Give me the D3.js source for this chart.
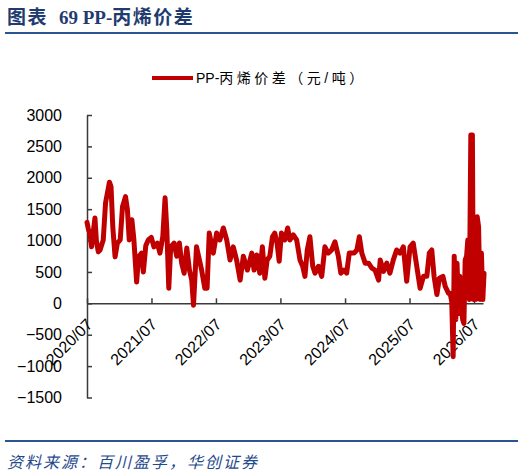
<!DOCTYPE html>
<html>
<head>
<meta charset="utf-8">
<script src="https://cdn.jsdelivr.net/npm/d3@7"></script>
<style>
  body { margin: 0; background: #ffffff; }
  svg { display: block; }
</style>
</head>
<body>
<script>
// DATA
const DATES = [
  '2020-07-01', '2020-07-09', '2020-07-17', '2020-07-27', '2020-08-04', '2020-08-15', '2020-08-23', '2020-09-03',
  '2020-09-13', '2020-10-01', '2020-10-14', '2020-11-05', '2020-11-14', '2020-11-24', '2020-12-07', '2020-12-20',
  '2021-01-05', '2021-01-18', '2021-02-04', '2021-02-15', '2021-02-25', '2021-03-12', '2021-03-23', '2021-04-08',
  '2021-04-19', '2021-05-06', '2021-05-16', '2021-05-30', '2021-06-13', '2021-06-30', '2021-07-15', '2021-08-03',
  '2021-08-18', '2021-09-03', '2021-09-16', '2021-09-26', '2021-10-07', '2021-10-18', '2021-11-06', '2021-11-21',
  '2021-12-06', '2021-12-19', '2022-01-02', '2022-01-17', '2022-02-01', '2022-02-14', '2022-02-24', '2022-03-13',
  '2022-04-11', '2022-04-29', '2022-05-12', '2022-05-24', '2022-06-16', '2022-07-05', '2022-07-23', '2022-08-12',
  '2022-08-31', '2022-09-19', '2022-10-07', '2022-10-26', '2022-11-15', '2022-12-03', '2022-12-26', '2023-01-20',
  '2023-02-02', '2023-02-17', '2023-03-06', '2023-03-21', '2023-04-04', '2023-04-17', '2023-05-02', '2023-05-17',
  '2023-05-30', '2023-06-12', '2023-06-24', '2023-07-07', '2023-07-26', '2023-08-11', '2023-08-24', '2023-09-12',
  '2023-10-01', '2023-10-20', '2023-11-04', '2023-11-17', '2023-11-30', '2023-12-15', '2023-12-31', '2024-01-13',
  '2024-02-01', '2024-02-20', '2024-03-09', '2024-03-28', '2024-04-16', '2024-05-05', '2024-05-24', '2024-06-07',
  '2024-06-25', '2024-07-10', '2024-07-25', '2024-08-21', '2024-09-06', '2024-09-20', '2024-10-04', '2024-10-23',
  '2024-11-11', '2024-11-30', '2024-12-18', '2025-01-07', '2025-01-16', '2025-02-04', '2025-02-22', '2025-03-12',
  '2025-03-31', '2025-04-19', '2025-05-08', '2025-05-27', '2025-06-15', '2025-07-04', '2025-07-22', '2025-08-11',
  '2025-08-30', '2025-09-18', '2025-10-07', '2025-10-21', '2025-11-04', '2025-11-17', '2025-12-03', '2025-12-17',
  '2026-01-06', '2026-01-19', '2026-02-07', '2026-02-16', '2026-02-25', '2026-03-05', '2026-03-11', '2026-03-20',
  '2026-03-27', '2026-04-05', '2026-04-12', '2026-04-20', '2026-04-28', '2026-05-05', '2026-05-12', '2026-05-20',
  '2026-05-27', '2026-06-05', '2026-06-13', '2026-06-22', '2026-06-27', '2026-07-05', '2026-07-12', '2026-07-19',
  '2026-07-27', '2026-08-04', '2026-08-12', '2026-08-20', '2026-08-27'
];
const VALUES = [
  1290, 1180, 1120, 900, 1100, 1360, 1000, 820,
  850, 1010, 1600, 1930, 1860, 1220, 740, 960,
  1010, 1540, 1700, 1490, 1010, 1330, 1030, 340,
  740, 800, 500, 920, 1010, 1050, 900, 960,
  800, 1060, 1680, 1170, 240, 900, 960, 750,
  960, 640, 480, 880, 530, 370, -30, 900,
  530, 240, 240, 1120, 800, 1120, 1010, 1200,
  1010, 690, 900, 690, 370, 750, 530, 800,
  530, 770, 480, 900, 400, 690, 750, 1060,
  1120, 960, 670, 1120, 1010, 1200, 1010, 1090,
  1010, 690, 590, 430, 850, 1060, 590, 480,
  590, 430, 900, 800, 850, 980, 750, 480,
  530, 480, 800, 800, 850, 1060, 800, 640,
  640, 560, 530, 370, 690, 510, 640, 480,
  690, 850, 800, 900, 350, 900, 960, 590,
  240, 430, 430, 800, 850, 430, 140, 400,
  430, 270, 160, 160, 30, -850, 750, -260,
  640, -160, 430, -50, -260, -320, 690, 750,
  1010, 60, 2680, 2680, 60, 1010, 60, 1380,
  1220, 60, 800, 60, 480
];
const X_TICKS = ['2020-07-01', '2021-07-01', '2022-07-01', '2023-07-01', '2024-07-01', '2025-07-01', '2026-07-01'];
const Y_TICKS = [-1500, -1000, -500, 0, 500, 1000, 1500, 2000, 2500, 3000];
const TITLE_HEAD = '图表';
const TITLE_TAIL = '69 PP-丙烯价差';
const SERIES_NAME = 'PP-丙烯价差（元/吨）';
const SOURCE = '资料来源：百川盈孚，华创证券';

// CONSTANTS
const WIDTH = 524;
const HEIGHT = 476;
const LEFT = 87;
const RIGHT = 483;
const TOP = 115;
const BOTTOM = 397.5;
const RED = '#C00000';
const BLUE = '#2B5592';
const AXIS_COLOR = '#3a3a3a';

const parseDate = d3.timeParse('%Y-%m-%d');
const data = DATES.map((d, i) => ({date: parseDate(d), value: VALUES[i]}));

const X_SCALE = d3.scaleTime()
  .domain([parseDate('2020-07-01'), parseDate('2026-08-21')])
  .range([LEFT, RIGHT]);
const Y_SCALE = d3.scaleLinear()
  .domain([-1500, 3000])
  .range([BOTTOM, TOP]);

const svg = d3.select('body')
  .append('svg')
  .attr('width', WIDTH)
  .attr('height', HEIGHT);

// TITLE
const title = svg.append('text')
  .attr('x', 7)
  .attr('y', 24)
  .style('font-family', '"Liberation Serif", "Noto Sans CJK SC", serif')
  .style('font-weight', 'bold')
  .style('font-size', '19px')
  .style('fill', '#1F3B70');
title.append('tspan').style('letter-spacing', '1.5px').text(TITLE_HEAD);
title.append('tspan').attr('x', 59).text(TITLE_TAIL.slice(0, 6));
title.append('tspan').style('letter-spacing', '1.5px').text(TITLE_TAIL.slice(6));

svg.append('line')
  .attr('x1', 5).attr('x2', 518)
  .attr('y1', 33).attr('y2', 33)
  .attr('stroke', BLUE)
  .attr('stroke-width', 2);

// LEGEND
svg.append('line')
  .attr('x1', 152).attr('x2', 193)
  .attr('y1', 78).attr('y2', 78)
  .attr('stroke', RED)
  .attr('stroke-width', 4);
const legendText = svg.append('text')
  .attr('x', 196)
  .attr('y', 83)
  .style('font-family', '"Liberation Sans", "Noto Sans CJK SC", sans-serif')
  .style('font-size', '14px')
  .style('fill', '#000');
legendText.append('tspan').text(SERIES_NAME.slice(0, 3));
legendText.append('tspan').style('letter-spacing', '3.5px').text(SERIES_NAME.slice(3));

// Y-AXIS
const Y_AXIS = d3.axisLeft(Y_SCALE)
  .tickValues(Y_TICKS)
  .tickFormat(d3.format('d'))
  .tickSizeInner(-5)
  .tickSizeOuter(0)
  .tickPadding(25);
const yAxis = svg.append('g')
  .attr('transform', 'translate(' + LEFT + ',0)')
  .call(Y_AXIS);
yAxis.selectAll('text')
  .style('font-family', '"Liberation Sans", Arial, sans-serif')
  .style('font-size', '16px')
  .style('fill', '#000');

// X-AXIS (drawn at zero)
const X_AXIS = d3.axisBottom(X_SCALE)
  .tickValues(X_TICKS.map(parseDate))
  .tickFormat(d3.timeFormat('%Y/%m'))
  .tickSizeInner(-5)
  .tickSizeOuter(0);
const xAxis = svg.append('g')
  .attr('transform', 'translate(0,' + Y_SCALE(0) + ')')
  .call(X_AXIS);
xAxis.selectAll('text')
  .attr('y', 0)
  .attr('dy', 0)
  .attr('transform', 'translate(6,22) rotate(-45)')
  .style('text-anchor', 'end')
  .style('font-family', '"Liberation Sans", Arial, sans-serif')
  .style('font-size', '16px')
  .style('fill', '#000');

svg.selectAll('.domain, .tick line')
  .attr('stroke', AXIS_COLOR)
  .attr('stroke-width', 1.5);

// SERIES
const line = d3.line()
  .x((d) => X_SCALE(d.date))
  .y((d) => Y_SCALE(d.value));
svg.append('path')
  .datum(data)
  .attr('d', line)
  .attr('fill', 'none')
  .attr('stroke', RED)
  .attr('stroke-width', 5)
  .attr('stroke-linejoin', 'round')
  .attr('stroke-linecap', 'round');

// SOURCE
svg.append('line')
  .attr('x1', 5).attr('x2', 518)
  .attr('y1', 441).attr('y2', 441)
  .attr('stroke', BLUE)
  .attr('stroke-width', 2);
svg.append('text')
  .attr('x', 7)
  .attr('y', 468)
  .style('font-family', '"Noto Sans CJK SC", sans-serif')
  .style('font-style', 'italic')
  .style('font-size', '16px')
  .style('letter-spacing', '2px')
  .style('fill', '#1F4A8C')
  .text(SOURCE);
</script>
</body>
</html>
